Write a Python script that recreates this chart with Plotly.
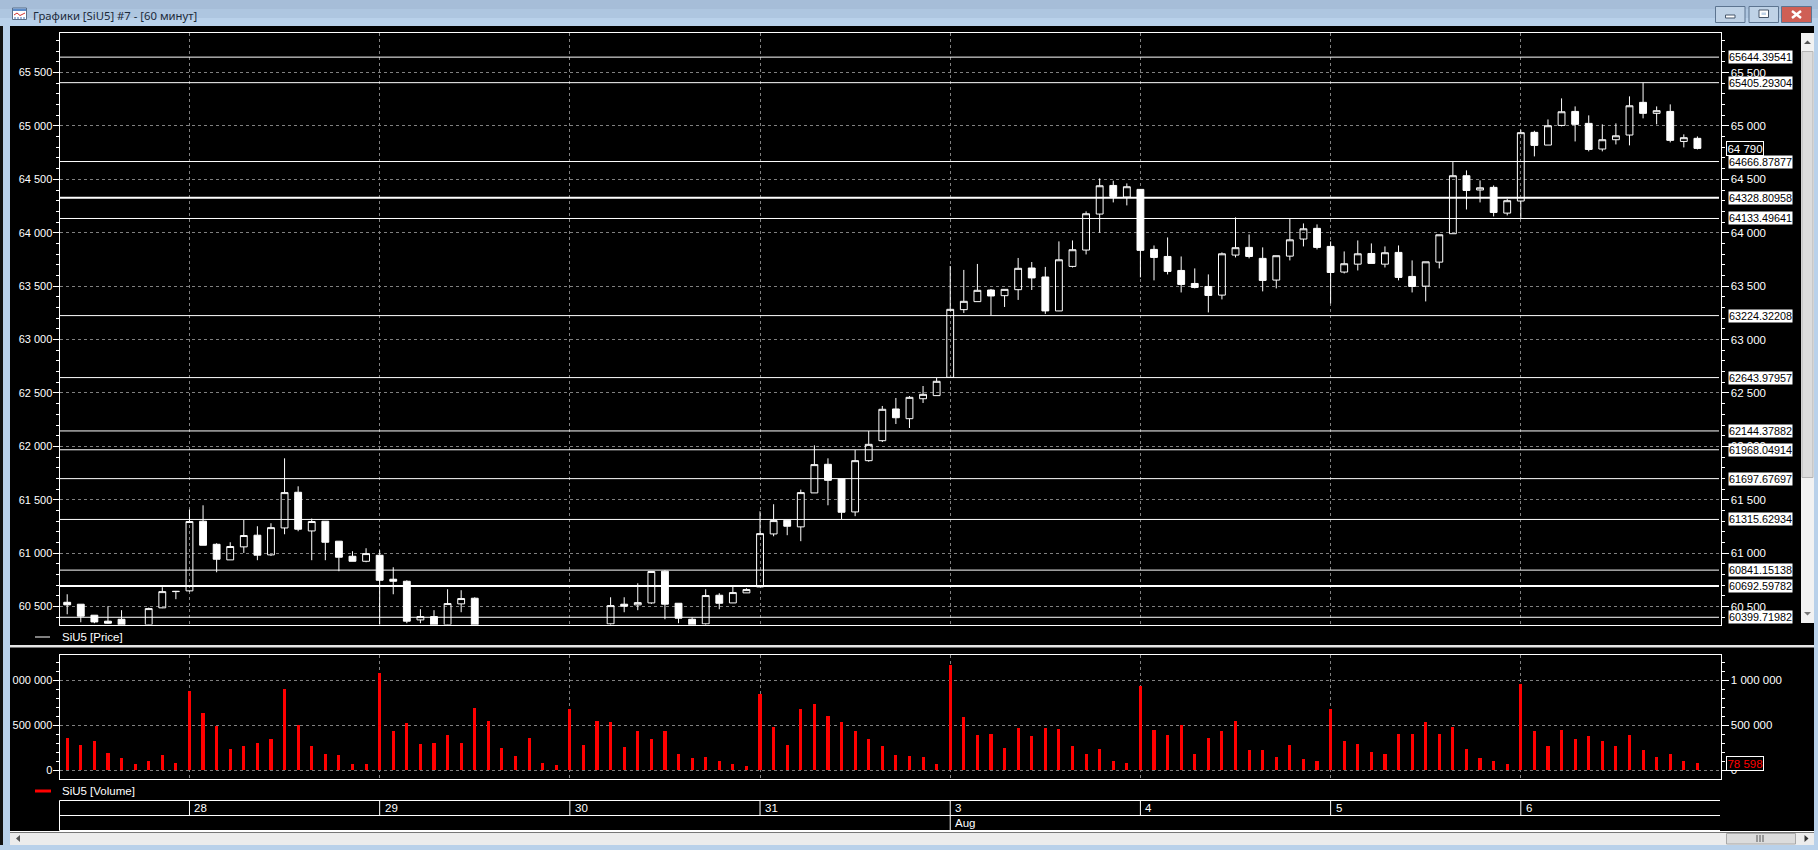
import plotly.graph_objects as go

W, H = 1818, 850
N = None
OPEN = [60540,60522,60419,60363,60381,N,60330,60488,60640,60647,
        61299,61083,60937,61059,61168,60984,61236,61570,61208,61299,
        61112,60971,60924,60980,60756,60737,60375,60406,60330,60525,
        60578,N,N,N,N,N,N,N,N,N,
        60338,60522,60516,60534,60831,60531,60381,60338,60606,60534,
        60628,60684,61180,61308,61246,61564,61832,61695,61386,61866,
        62053,62350,62259,62446,62475,62646,63280,63355,63464,63411,
        63467,63670,63586,63268,63685,63838,64175,64443,64334,64406,
        63844,63778,63647,63525,63497,63416,63791,63863,63760,63557,
        63781,63941,64041,63872,63632,63706,63806,63706,63816,63591,
        63500,63725,63991,64534,64400,64425,64184,64297,64940,64821,
        65005,65136,65024,64784,64871,64915,65221,65118,65136,64855,
        64884]
HIGH = [60615,60522,60419,60503,60466,N,60490,60681,60646,61408,
        61448,61093,61102,61311,61252,61280,61888,61626,61324,61299,
        61112,61018,61046,61027,60868,60746,60475,60466,60662,60653,
        60587,N,N,N,N,N,N,N,N,N,
        60587,60587,60718,60828,60840,60531,60400,60662,60625,60697,
        60671,61392,61458,61308,61595,62010,61888,61695,61966,62144,
        62378,62453,62471,62565,62640,63689,63652,63708,63474,63470,
        63764,63726,63680,63919,63928,64200,64509,64487,64462,64406,
        63881,63956,63778,63666,63610,63816,64144,63984,63863,63785,
        64131,64087,64078,63919,63825,63928,63900,63872,63881,63741,
        63728,63981,64662,64584,64490,64443,64318,64965,64955,65061,
        65258,65183,65099,65015,65024,65277,65405,65183,65202,64921,
        64902]
LOW = [60428,60353,60344,60340,60310,N,60325,60485,60569,60640,
       61074,60821,60937,61002,60934,60974,61177,61205,60934,60934,
       60831,60924,60915,60320,60615,60344,60344,60310,60325,60447,
       60310,N,N,N,N,N,N,N,N,N,
       60320,60447,60466,60525,60381,60344,60310,60320,60475,60534,
       60628,60684,61158,61168,61112,61564,61448,61317,61346,61856,
       62041,62209,62172,62406,62475,62640,63249,63355,63230,63305,
       63371,63464,63240,63266,63675,63797,64000,64284,64256,63582,
       63554,63610,63441,63479,63254,63376,63769,63760,63451,63479,
       63741,63872,63844,63338,63619,63647,63713,63675,63554,63441,
       63357,63666,63991,64218,64284,64153,64162,64131,64715,64821,
       64996,64855,64762,64762,64827,64818,65071,65015,64846,64799,
       64780]
CLOSE = [60516,60410,60356,60344,60320,N,60481,60640,60642,61296,
         61074,60943,61062,61165,60981,61239,61567,61224,61296,61102,
         60962,60924,60996,60746,60737,60363,60406,60320,60528,60575,
         60320,N,N,N,N,N,N,N,N,N,
         60509,60503,60537,60828,60522,60391,60320,60603,60531,60631,
         60659,61183,61305,61252,61567,61829,61682,61383,61866,62019,
         62347,62268,62459,62487,62609,63283,63358,63461,63408,63470,
         63667,63577,63268,63747,63841,64178,64440,64340,64431,63835,
         63769,63638,63516,63488,63413,63803,63860,63778,63554,63785,
         63934,64037,63863,63628,63710,63803,63713,63813,63582,63497,
         63728,63981,64534,64396,64421,64190,64300,64937,64818,65002,
         65133,65015,64780,64871,64908,65189,65118,65143,64865,64890,
         64790]
VOLUME = [363000,285000,330000,196000,140000,74000,107000,174000,85000,881000,
          630000,496000,241000,274000,307000,352000,907000,507000,274000,185000,
          174000,74000,74000,1085000,440000,519000,296000,307000,396000,307000,
          696000,552000,252000,159000,363000,85000,63000,681000,281000,552000,
          530000,263000,441000,352000,430000,185000,141000,152000,107000,74000,
          52000,841000,481000,281000,685000,730000,607000,530000,441000,352000,
          274000,174000,163000,152000,74000,1174000,596000,396000,407000,252000,
          474000,385000,474000,463000,274000,185000,241000,107000,85000,930000,
          452000,396000,507000,185000,363000,430000,552000,219000,219000,152000,
          285000,130000,107000,685000,330000,296000,207000,185000,407000,407000,
          530000,407000,481000,241000,141000,107000,74000,963000,430000,274000,
          452000,352000,385000,319000,274000,396000,219000,152000,185000,107000,
          78598]
LEVELS = [65644.39541,65405.29304,64666.87877,64328.80958,64133.49641,63224.32208,
          62643.97957,62144.37882,61968.04914,61697.67697,61315.62934,60841.15138,
          60692.59782,60399.71982]
THICK_LEVELS = [64328.80958, 60692.59782]
DAY_START = [9,23,37,51,65,79,93,107]
DAY_LABEL = ["28","29","30","31","3","4","5","6"]
MONTH_START = [65]
MONTH_LABEL = ["Aug"]
LAST_PRICE = 64790
LAST_VOLUME = 78598
TITLE = "Графики [SiU5] #7 - [60 минут]"

IDX = list(range(len(CLOSE)))
FONT = "Liberation Sans"
BLUE = "#b9d1ea"
GRID = "#808080"
DASH = "3px,3px"


def px(x): return x / W
def py(y): return 1 - y / H


fig = go.Figure()
fig.add_trace(go.Candlestick(
    x=IDX, open=OPEN, high=HIGH, low=LOW, close=CLOSE, xaxis="x", yaxis="y",
    increasing=dict(line=dict(color="white", width=1), fillcolor="rgba(0,0,0,0)"),
    decreasing=dict(line=dict(color="white", width=1), fillcolor="white"),
    whiskerwidth=0, hoverinfo="skip"))
fig.add_trace(go.Bar(x=IDX, y=VOLUME, xaxis="x2", yaxis="y2", width=0.23,
                     marker=dict(color="#ff0000", line=dict(width=0)), hoverinfo="skip"))
# carriers so that the right-hand price and volume scales are drawn
fig.add_trace(go.Scatter(x=IDX, y=CLOSE, xaxis="x", yaxis="y3", mode="lines", opacity=0,
                         line=dict(width=0), hoverinfo="skip"))
fig.add_trace(go.Scatter(x=IDX, y=VOLUME, xaxis="x2", yaxis="y4", mode="lines", opacity=0,
                         line=dict(width=0), hoverinfo="skip"))

X_RANGE = [-0.567, 121.7]
PX_DOM = [px(59.5), px(1720.5)]
PRICE_DOM = [py(624.5), py(32.5)]
VOL_DOM = [py(778.5), py(654.5)]
PRICE_RANGE = [60332, 65875]
VOL_RANGE = [-92000, 1285000]


def xax(**kw):
    return dict(domain=PX_DOM, range=X_RANGE, showline=True, mirror=True, linecolor="white",
                linewidth=1, ticks="", showticklabels=False, tickmode="array", tickvals=DAY_START,
                showgrid=True, gridcolor=GRID, griddash=DASH, gridwidth=1, zeroline=False,
                rangeslider=dict(visible=False), **kw)


def yax(dom, rng, major, minor, side, grid, ticklen, size, **kw):
    return dict(domain=dom, range=rng, side=side, showgrid=grid, gridcolor=GRID, griddash=DASH,
                gridwidth=1, zeroline=False, tickmode="linear", tick0=0, dtick=major,
                ticks="outside", ticklen=ticklen, tickcolor="white", tickwidth=1,
                tickformat=",.0f", tickfont=dict(family=FONT, size=size, color="white"),
                minor=dict(tick0=0, dtick=minor, ticks="outside", ticklen=3,
                           tickcolor="white", tickwidth=1, showgrid=False), **kw)


fig.update_layout(
    width=W, height=H, margin=dict(l=0, r=0, t=0, b=0, autoexpand=False),
    paper_bgcolor="black", plot_bgcolor="black", showlegend=False, separators=". ",
    boxgap=0.28, bargap=0, hovermode=False,
    xaxis=xax(anchor="y"),
    xaxis2=xax(anchor="y2", matches="x"),
    yaxis=yax(PRICE_DOM, PRICE_RANGE, 500, 100, "left", True, 6, 11, anchor="x",
              showline=True, mirror=True, linecolor="white", linewidth=1, ticklabelstandoff=-2),
    yaxis2=yax(VOL_DOM, VOL_RANGE, 500000, 100000, "left", True, 6, 11, anchor="x2",
               showline=True, mirror=True, linecolor="white", linewidth=1, ticklabelstandoff=-2),
    yaxis3=yax(PRICE_DOM, PRICE_RANGE, 500, 100, "right", False, 7, 11.5, anchor="x", overlaying="y"),
    yaxis4=yax(VOL_DOM, VOL_RANGE, 500000, 100000, "right", False, 7, 11.5, anchor="x2", overlaying="y2"),
)

shapes, notes = [], []


def rect(x0, y0, x1, y1, fill, line=None, layer="above", lw=1):
    shapes.append(dict(type="rect", xref="paper", yref="paper", x0=px(x0), x1=px(x1), y0=py(y0), y1=py(y1),
                       fillcolor=fill, line=dict(color=line or fill, width=lw if line else 0), layer=layer))


def seg(x0, y0, x1, y1, color="white", width=1):
    shapes.append(dict(type="line", xref="paper", yref="paper", x0=px(x0), x1=px(x1), y0=py(y0), y1=py(y1),
                       line=dict(color=color, width=width), layer="above"))


def tri(points, color):
    path = "M " + " L ".join(f"{px(a):.5f},{py(b):.5f}" for a, b in points) + " Z"
    shapes.append(dict(type="path", xref="paper", yref="paper", path=path, fillcolor=color,
                       line=dict(width=0), layer="above"))


def text(x, y, s, size=11.5, color="white", family=FONT, anchor="left"):
    notes.append(dict(xref="paper", yref="paper", x=px(x), y=py(y), text=s, showarrow=False,
                      xanchor=anchor, yanchor="middle",
                      font=dict(family=family, size=size, color=color), borderpad=0))


# support / resistance levels
for lv in LEVELS:
    shapes.append(dict(type="line", xref="paper", yref="y", x0=px(59.5), x1=px(1719), y0=lv, y1=lv,
                       line=dict(color="white", width=2 if lv in THICK_LEVELS else 1), layer="above"))
    notes.append(dict(xref="paper", yref="y", x=px(1728), y=lv, text=f"{lv:.5f}", showarrow=False,
                      xanchor="left", yanchor="middle", width=63, height=12, align="center", borderpad=0,
                      bgcolor="white", font=dict(family=FONT, size=10.8, color="black")))

# current value badges
notes.append(dict(xref="paper", yref="y", x=px(1726), y=LAST_PRICE, text=f"{LAST_PRICE:,}".replace(",", " "),
                  showarrow=False, xanchor="left", yanchor="middle", width=36, height=13, borderpad=0,
                  bgcolor="black", bordercolor="white", borderwidth=1,
                  font=dict(family=FONT, size=11.5, color="white")))
notes.append(dict(xref="paper", yref="y2", x=px(1726), y=LAST_VOLUME, text=f"{LAST_VOLUME:,}".replace(",", " "),
                  showarrow=False, xanchor="left", yanchor="middle", width=36, height=13, borderpad=0,
                  bgcolor="black", bordercolor="white", borderwidth=1,
                  font=dict(family=FONT, size=11.5, color="#ff0000")))

# date strip
for y in (800.5, 815.5, 830.5):
    seg(59.5, y, 1720, y)
seg(59.5, 800.5, 59.5, 830.5)
for d, lab in zip(DAY_START, DAY_LABEL):
    shapes.append(dict(type="line", xref="x", yref="paper", x0=d, x1=d, y0=py(800.5), y1=py(815.5),
                       line=dict(color="white", width=1), layer="above"))
    notes.append(dict(xref="x", yref="paper", x=d, y=py(808), xshift=3, text=lab, showarrow=False,
                      xanchor="left", yanchor="middle", font=dict(family=FONT, size=11.5, color="white")))
for d, lab in zip(MONTH_START, MONTH_LABEL):
    shapes.append(dict(type="line", xref="x", yref="paper", x0=d, x1=d, y0=py(815.5), y1=py(830.5),
                       line=dict(color="white", width=1), layer="above"))
    notes.append(dict(xref="x", yref="paper", x=d, y=py(823), xshift=3, text=lab, showarrow=False,
                      xanchor="left", yanchor="middle", font=dict(family=FONT, size=11.5, color="white")))

# legends
seg(35, 637, 50, 637, "white", 1)
text(61, 637, "SiU5 [Price]")
seg(35, 791, 51, 791, "#ff0000", 3)
text(61, 791, "SiU5 [Volume]")

# pane separator
rect(10, 645, 1814, 647.5, "#e6e6e6")

# window chrome
rect(0, 0, W, 9, "#a6bdd8")
rect(0, 9, W, 18, "#aec6e0")
rect(0, 18, W, 26, BLUE)
rect(0, 26, 3, H, "#111111")
rect(3, 26, 10, H, BLUE)
rect(1814, 26, W, H, BLUE)
rect(0, 845, W, H, BLUE)
text(32, 15, TITLE, size=11.3, color="#1c2a3a", family="Noto Sans")
# title icon
rect(12.5, 8, 26.5, 19.5, "white", "#5a6f88")
rect(13, 8.5, 26, 11, "#5b8bc9")
for a, b, c, d in [(14, 15, 17, 13), (17, 13, 20, 15.5), (20, 15.5, 25, 13)]:
    seg(a, b, c, d, "#d03030", 1)
for a in (15, 18, 21, 24):
    seg(a, 19, a, 17, "#3b6db5", 1)
# window buttons
for a, b, fill in [(1715.5, 1745, "#bfd2e6"), (1749, 1778.5, "#bfd2e6"), (1781.5, 1811.5, "#cf5f55")]:
    rect(a, 6.5, b, 22.5, fill, "#5c7490")
rect(1725.5, 15, 1735, 18, "white", "#46566a")
rect(1759, 10, 1768.5, 17.5, "white", "#46566a")
rect(1761.5, 12.5, 1766, 15, "#bfd2e6")
seg(1792, 11, 1801, 18, "white", 2.5)
seg(1801, 11, 1792, 18, "white", 2.5)
# vertical scrollbar
rect(1801, 33, 1814, 623, "#f2f2f2")
rect(1802, 51.5, 1813, 477.5, "#dcdcdc", "#b5b5b5")
tri([(1804, 44), (1811, 44), (1807.5, 40.5)], "#555555")
tri([(1804, 612), (1811, 612), (1807.5, 615.5)], "#777777")
# horizontal scrollbar
rect(10, 832.5, 1814, 845, "#ececec")
seg(10, 831.5, 1814, 831.5, "white", 1)
rect(1726.5, 833.5, 1795.5, 844, "#dcdcdc", "#a8a8a8")
for a in (1757, 1760, 1763):
    seg(a, 835, a, 842, "#555555", 1)
tri([(20, 835), (20, 842), (16, 838.5)], "#555555")
tri([(1804.5, 835), (1804.5, 842), (1808.5, 838.5)], "#333333")

fig.update_layout(shapes=shapes, annotations=notes)
fig.write_html("out.html", config=dict(displayModeBar=False, staticPlot=True),
               post_script="document.body.style.margin='0';document.body.style.overflow='hidden';"
                           "document.body.style.background='black';")
